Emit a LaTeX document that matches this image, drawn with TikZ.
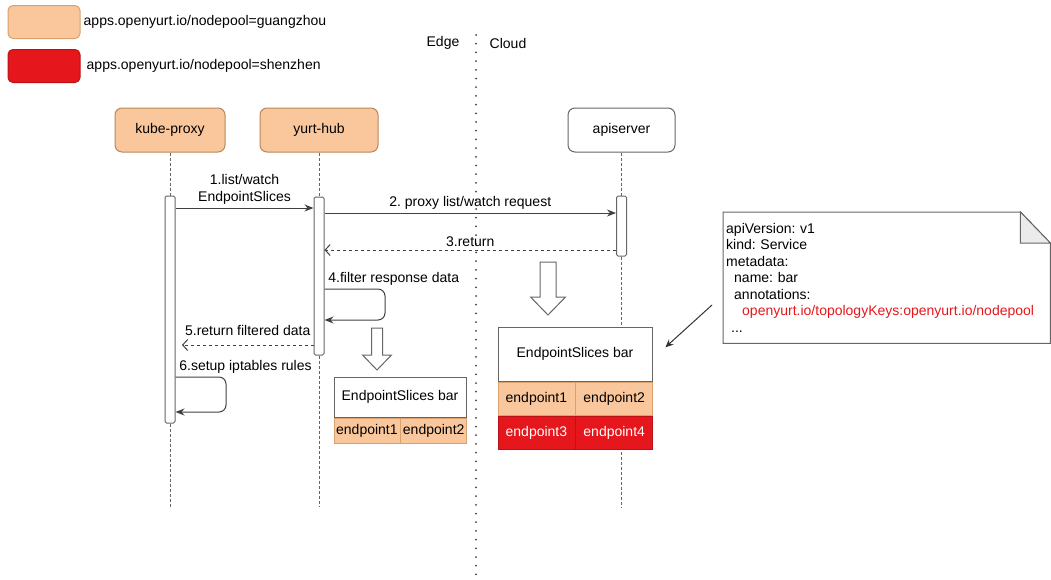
\documentclass[tikz,border=0pt]{standalone}
\usepackage{fontspec}
\setmainfont{Liberation Sans}
\usepackage{xcolor}
\usepackage{tikz}
\usetikzlibrary{arrows.meta, positioning, calc}
\frenchspacing
\definecolor{poolorange}{HTML}{F9C79B}
\definecolor{orangeline}{HTML}{B8875C}
\definecolor{cellline}{HTML}{D9A070}
\definecolor{poolred}{HTML}{E5171C}
\definecolor{redline}{HTML}{B91217}
\definecolor{lineg}{HTML}{666666}
\definecolor{foldg}{HTML}{EBEBEB}
\tikzstyle{legendbox} = [rectangle, rounded corners=5pt, minimum width=72pt, minimum height=33pt, inner sep=0pt, line width=1pt]
\tikzstyle{actor} = [rectangle, rounded corners=7pt, minimum width=110pt, minimum height=44pt, inner sep=0pt, text centered, draw=orangeline, line width=1pt, fill=poolorange]
\tikzstyle{bar} = [rectangle, rounded corners=1.5pt, minimum width=10pt, inner sep=0pt, draw=lineg, line width=1pt, fill=white]
\tikzstyle{lifeline} = [lineg, line width=1pt, dash pattern=on 3pt off 2pt]
\tikzstyle{split} = [black!75, line width=2pt, line cap=round, dash pattern=on 0pt off 8.7pt]
\tikzstyle{msg} = [line width=1pt, draw=black!75, -{Stealth[length=9pt,width=7pt]}]
\tikzstyle{reply} = [line width=1pt, draw=black!75, dash pattern=on 3pt off 3pt, -{Straight Barb[length=5pt,width=11pt]}]
\tikzstyle{pointer} = [line width=1pt, draw=black!80, -{Stealth[length=8pt,width=7pt]}]
\tikzstyle{hollow} = [draw=lineg, line width=1pt, fill=white]
\tikzstyle{titlecell} = [rectangle, inner sep=0pt, draw=lineg, line width=1pt, fill=white]
\tikzstyle{gzcell} = [rectangle, inner sep=0pt, minimum width=66pt, minimum height=25pt, draw=cellline, line width=0.8pt, fill=poolorange]
\tikzstyle{szcell} = [rectangle, inner sep=0pt, minimum width=77pt, minimum height=33.5pt, draw=redline, line width=0.8pt, fill=poolred, text=white]
\tikzstyle{notetext} = [rectangle, inner xsep=3pt, inner ysep=0pt, text width=321pt, minimum height=131pt, align=left]

\begin{document}
\begin{tikzpicture}[x=1pt, y=-1pt, font=\fontsize{14}{16.5}\selectfont]
    \useasboundingbox (0,0) rectangle (1051,579);

    % Legend
    \node[legendbox, fill=poolorange, draw=cellline] (gzbox) at (44,22) {};
    \node[right=3pt of gzbox, inner sep=0pt] (gztext) {apps.openyurt.io/nodepool=guangzhou};
    \node[legendbox, fill=poolred, draw=redline] (szbox) at (44,66) {};
    \node[right=6pt of szbox, inner sep=0pt] (sztext) {apps.openyurt.io/nodepool=shenzhen};

    % Edge / Cloud
    \node (edge) at (443,43) {Edge};
    \node (cloud) at (508,43) {Cloud};
    \coordinate (splittop) at (476,35);
    \coordinate (splitbot) at (476,579);
    \draw[split] (splittop) -- (splitbot);

    % Participants
    \node[actor] (kube) at (170,130) {kube-proxy};
    \node[actor, minimum width=118pt] (hub) at (319,130) {yurt-hub};
    \node[actor, minimum width=107pt, fill=white, draw=lineg] (api) at (621.5,130) {apiserver};

    % Activation bars
    \node[bar, minimum height=227pt] (kubebar) at (170,309.5) {};
    \node[bar, minimum height=158pt] (hubbar) at (319,276) {};
    \node[bar, minimum height=60pt] (apibar) at (621.5,226) {};

    % Lifelines
    \coordinate (kubeend) at (170,507);
    \coordinate (hubend) at (319,507);
    \coordinate (apiend) at (621.5,507);
    \draw[lifeline] (kube) -- (kubebar);
    \draw[lifeline] (kubebar) -- (kubeend);
    \draw[lifeline] (hub) -- (hubbar);
    \draw[lifeline] (hubbar) -- (hubend);
    \draw[lifeline] (api) -- (apibar);
    \draw[lifeline] (apibar) -- (apiend);

    % Messages
    \draw[msg] (kubebar.east |- 0,208) -- node[above, align=center] {1.list/watch\\EndpointSlices} (hubbar.west |- 0,208);
    \draw[msg] (hubbar.east |- 0,213) -- node[above] {2. proxy list/watch request} (apibar.west |- 0,213);
    \draw[reply] (apibar.west |- 0,250) -- node[above] {3.return} (hubbar.east |- 0,250);
    \draw[msg, rounded corners=7pt] (hubbar.east |- 0,289) node[above right] {4.filter response data}
        -- (385,289) -- (385,320) -- (hubbar.east |- 0,320);
    \coordinate (ret5) at (182,345);
    \draw[reply] (hubbar.west |- 0,345) -- node[above=6pt] {5.return filtered data} (ret5);
    \draw[msg, rounded corners=7pt] (kubebar.east |- 0,377) node[above right] {6.setup iptables rules}
        -- (226,377) -- (226,412) -- (kubebar.east |- 0,412);

    % Hollow arrows
    \draw[hollow] (371.5,328) -- (382.5,328) -- (382.5,355) -- (391.5,355) -- (377,370) -- (362.5,355) -- (371.5,355) -- cycle;
    \draw[hollow] (540,262) -- (556,262) -- (556,297) -- (565.5,297) -- (548,315) -- (530.5,297) -- (540,297) -- cycle;

    % Filtered EndpointSlices (edge)
    \node[titlecell, minimum width=132pt, minimum height=40pt] (smalltitle) at (400,397) {EndpointSlices bar};
    \node[gzcell, anchor=north west] (sep1) at (smalltitle.south west) {endpoint1};
    \node[gzcell, right=0pt of sep1] (sep2) {endpoint2};

    % Full EndpointSlices (cloud)
    \node[titlecell, minimum width=154pt, minimum height=54pt] (bigtitle) at (575,354) {EndpointSlices bar};
    \node[gzcell, minimum width=77pt, minimum height=33.5pt, anchor=north west] (bep1) at (bigtitle.south west) {endpoint1};
    \node[gzcell, minimum width=77pt, minimum height=33.5pt, right=0pt of bep1] (bep2) {endpoint2};
    \node[szcell, below=0pt of bep1] (bep3) {endpoint3};
    \node[szcell, right=0pt of bep3] (bep4) {endpoint4};

    % Service note
    \node[notetext, anchor=north west] (note) at (723,212) {apiVersion: v1\\
        kind: Service\\
        metadata:\\
        \hspace*{8pt}name: bar\\
        \hspace*{8pt}annotations:\\
        \hspace*{16pt}\textcolor{poolred}{openyurt.io/topologyKeys:openyurt.io/nodepool}\\
        \hspace*{5pt}...};
    \draw[lineg, line width=1pt] (note.north west) -- ([xshift=-30pt]note.north east) -- ([yshift=-31pt]note.north east)
        -- (note.south east) -- (note.south west) -- cycle;
    \filldraw[lineg, fill=foldg, line width=1pt] ([xshift=-30pt]note.north east) -- ([xshift=-30pt, yshift=-31pt]note.north east)
        -- ([yshift=-31pt]note.north east) -- cycle;
    \draw[pointer, shorten <=14.7pt, shorten >=17.4pt] (note.west |- 0,295) -- (bigtitle.east |- 0,359);

\end{tikzpicture}
\end{document}
